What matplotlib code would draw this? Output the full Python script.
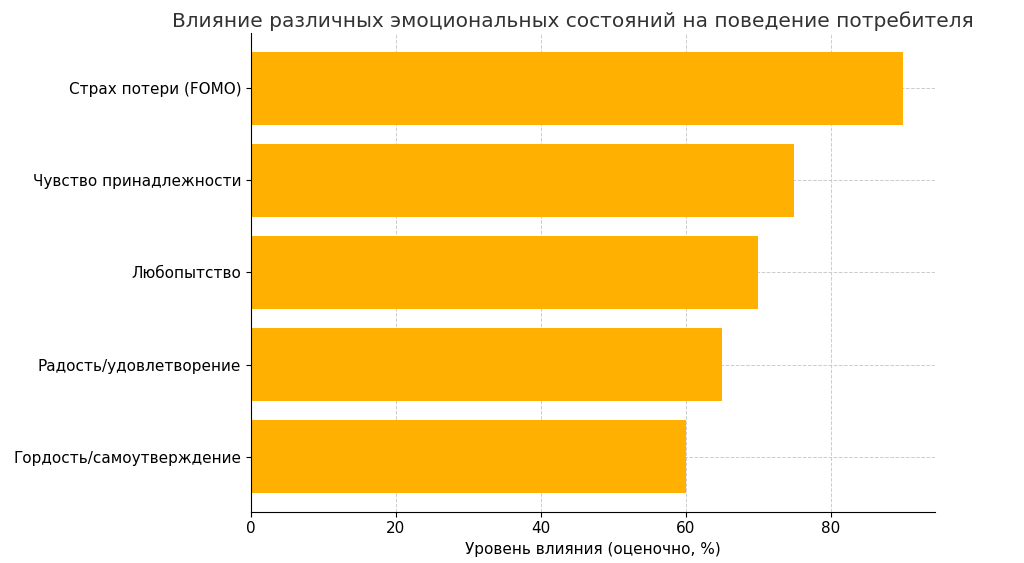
import matplotlib
matplotlib.use("Agg")
import matplotlib.pyplot as plt

categories = ["Гордость/самоутверждение", "Радость/удовлетворение", "Любопытство",
              "Чувство принадлежности", "Страх потери (FOMO)"]
values = [60, 65, 70, 75, 90]

fig = plt.figure(figsize=(10.24, 5.63), dpi=100)
ax = fig.add_axes([0.245, 0.091, 0.668, 0.85])
ax.barh(categories, values, color="#FFB000", height=0.8, zorder=2)
ax.set_xlim(0, 94.4)
ax.set_ylim(-0.6, 4.6)
ax.grid(True, linestyle="--", color="#cccccc", linewidth=0.7, zorder=0)
ax.spines["top"].set_visible(False)
ax.spines["right"].set_visible(False)
ax.tick_params(labelsize=11)
ax.set_xlabel("Уровень влияния (оценочно, %)", fontsize=11)
fig.text(0.168, 0.962, "Влияние различных эмоциональных состояний на поведение потребителя",
         fontsize=14.5, color="#333333", va="center")
fig.savefig("out.png", dpi=100)
